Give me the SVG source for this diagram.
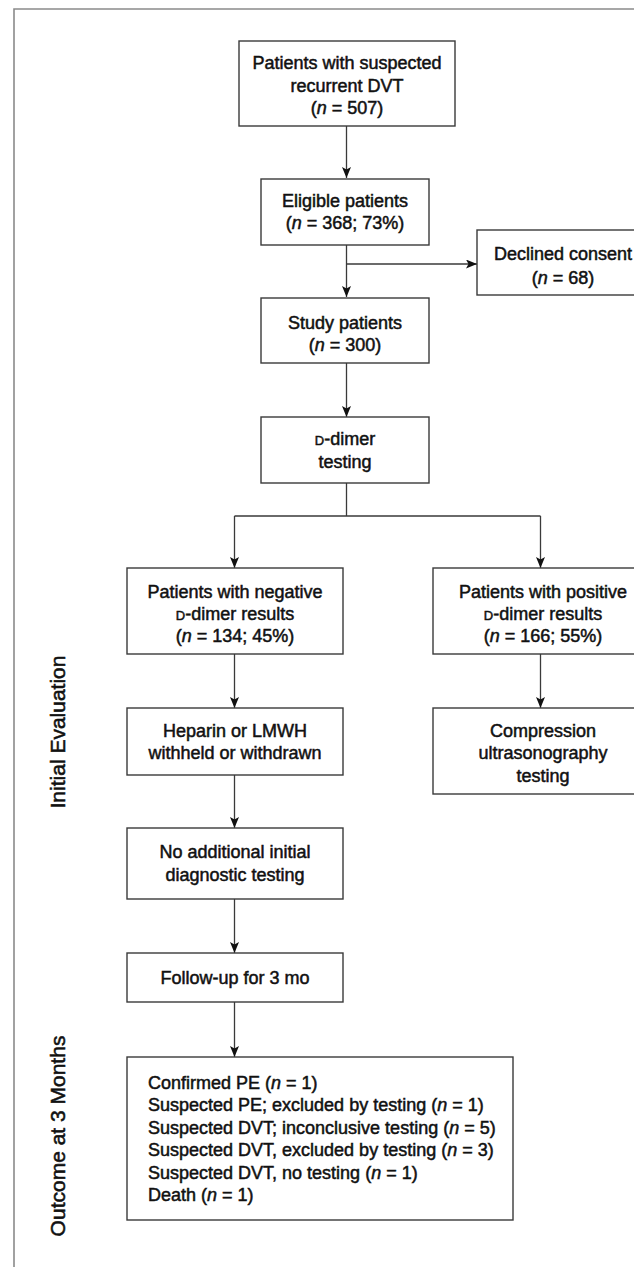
<svg xmlns="http://www.w3.org/2000/svg" width="634" height="1267" viewBox="0 0 634 1267">
<style>
  .box{fill:#fff;stroke:#3a3a3a;stroke-width:1.4}
  .t{font-family:"Liberation Sans",Arial,sans-serif;font-size:18px;fill:#111;stroke:#111;stroke-width:0.5;text-anchor:middle}
  .l{text-anchor:start}
  .side{font-family:"Liberation Sans",Arial,sans-serif;font-size:21px;fill:#111;stroke:#111;stroke-width:0.55;text-anchor:middle}
  .c{fill:none;stroke:#3a3a3a;stroke-width:1.3}
  .sc{font-size:13px}
</style>
<defs>
  <marker id="ah" markerWidth="12" markerHeight="10" refX="11" refY="4.5" orient="auto" markerUnits="userSpaceOnUse">
    <path d="M0,0 L11,4.5 L0,9 L2.5,4.5 z" fill="#111"/>
  </marker>
</defs>
<rect width="634" height="1267" fill="#fff"/>
<g id="frame">
  <path d="M14,1267 V9 H634" fill="none" stroke="#8a8a8a" stroke-width="1.6"/>
</g>
<g id="labels">
  <text class="side" transform="translate(64.5,732) rotate(-90)">Initial Evaluation</text>
  <text class="side" transform="translate(64.5,1136) rotate(-90)">Outcome at 3 Months</text>
</g>
<g id="connectors">
  <path class="c" d="M346.5,126 V178" marker-end="url(#ah)"/>
  <path class="c" d="M346.5,245 V297" marker-end="url(#ah)"/>
  <path class="c" d="M346.5,264 H477" marker-end="url(#ah)"/>
  <path class="c" d="M346.5,363 V417" marker-end="url(#ah)"/>
  <path class="c" d="M346.5,483 V516 M234.5,516 H540.5"/>
  <path class="c" d="M234.5,516 V568" marker-end="url(#ah)"/>
  <path class="c" d="M540.5,516 V568" marker-end="url(#ah)"/>
  <path class="c" d="M234.5,654 V708" marker-end="url(#ah)"/>
  <path class="c" d="M540.5,654 V708" marker-end="url(#ah)"/>
  <path class="c" d="M234.5,775 V828" marker-end="url(#ah)"/>
  <path class="c" d="M234.5,899 V953" marker-end="url(#ah)"/>
  <path class="c" d="M234.5,1002 V1057" marker-end="url(#ah)"/>
</g>
<g id="n1">
  <rect class="box" x="239" y="41" width="216" height="85"/>
  <text class="t" x="347" y="69">Patients with suspected</text>
  <text class="t" x="347" y="92">recurrent DVT</text>
  <text class="t" x="347" y="114">(<tspan font-style="italic">n</tspan> = 507)</text>
</g>
<g id="n2">
  <rect class="box" x="261" y="179" width="168" height="66"/>
  <text class="t" x="345" y="207">Eligible patients</text>
  <text class="t" x="345" y="229">(<tspan font-style="italic">n</tspan> = 368; 73%)</text>
</g>
<g id="n3">
  <rect class="box" x="477" y="230" width="165" height="65"/>
  <text class="t" x="563" y="260">Declined consent</text>
  <text class="t" x="563" y="284">(<tspan font-style="italic">n</tspan> = 68)</text>
</g>
<g id="n4">
  <rect class="box" x="261" y="298" width="168" height="65"/>
  <text class="t" x="345" y="329">Study patients</text>
  <text class="t" x="345" y="351">(<tspan font-style="italic">n</tspan> = 300)</text>
</g>
<g id="n5">
  <rect class="box" x="261" y="417" width="168" height="66"/>
  <text class="t" x="345" y="445"><tspan class="sc">D</tspan>-dimer</text>
  <text class="t" x="345" y="468">testing</text>
</g>
<g id="n6">
  <rect class="box" x="127" y="568" width="216" height="86"/>
  <text class="t" x="235" y="598">Patients with negative</text>
  <text class="t" x="235" y="620"><tspan class="sc">D</tspan>-dimer results</text>
  <text class="t" x="235" y="642">(<tspan font-style="italic">n</tspan> = 134; 45%)</text>
</g>
<g id="n7">
  <rect class="box" x="433" y="568" width="209" height="86"/>
  <text class="t" x="543" y="598">Patients with positive</text>
  <text class="t" x="543" y="620"><tspan class="sc">D</tspan>-dimer results</text>
  <text class="t" x="543" y="642">(<tspan font-style="italic">n</tspan> = 166; 55%)</text>
</g>
<g id="n8">
  <rect class="box" x="127" y="708" width="216" height="67"/>
  <text class="t" x="235" y="737">Heparin or LMWH</text>
  <text class="t" x="235" y="759">withheld or withdrawn</text>
</g>
<g id="n9">
  <rect class="box" x="433" y="708" width="209" height="86"/>
  <text class="t" x="543" y="737">Compression</text>
  <text class="t" x="543" y="759">ultrasonography</text>
  <text class="t" x="543" y="782">testing</text>
</g>
<g id="n10">
  <rect class="box" x="127" y="828" width="216" height="71"/>
  <text class="t" x="235" y="858">No additional initial</text>
  <text class="t" x="235" y="881">diagnostic testing</text>
</g>
<g id="n11">
  <rect class="box" x="127" y="953" width="216" height="49"/>
  <text class="t" x="235" y="984">Follow-up for 3 mo</text>
</g>
<g id="n12">
  <rect class="box" x="127" y="1057" width="386" height="163"/>
  <text class="t l" x="148" y="1089">Confirmed PE (<tspan font-style="italic">n</tspan> = 1)</text>
  <text class="t l" x="148" y="1111">Suspected PE; excluded by testing (<tspan font-style="italic">n</tspan> = 1)</text>
  <text class="t l" x="148" y="1134">Suspected DVT; inconclusive testing (<tspan font-style="italic">n</tspan> = 5)</text>
  <text class="t l" x="148" y="1156">Suspected DVT, excluded by testing (<tspan font-style="italic">n</tspan> = 3)</text>
  <text class="t l" x="148" y="1179">Suspected DVT, no testing (<tspan font-style="italic">n</tspan> = 1)</text>
  <text class="t l" x="148" y="1201">Death (<tspan font-style="italic">n</tspan> = 1)</text>
</g>
</svg>
